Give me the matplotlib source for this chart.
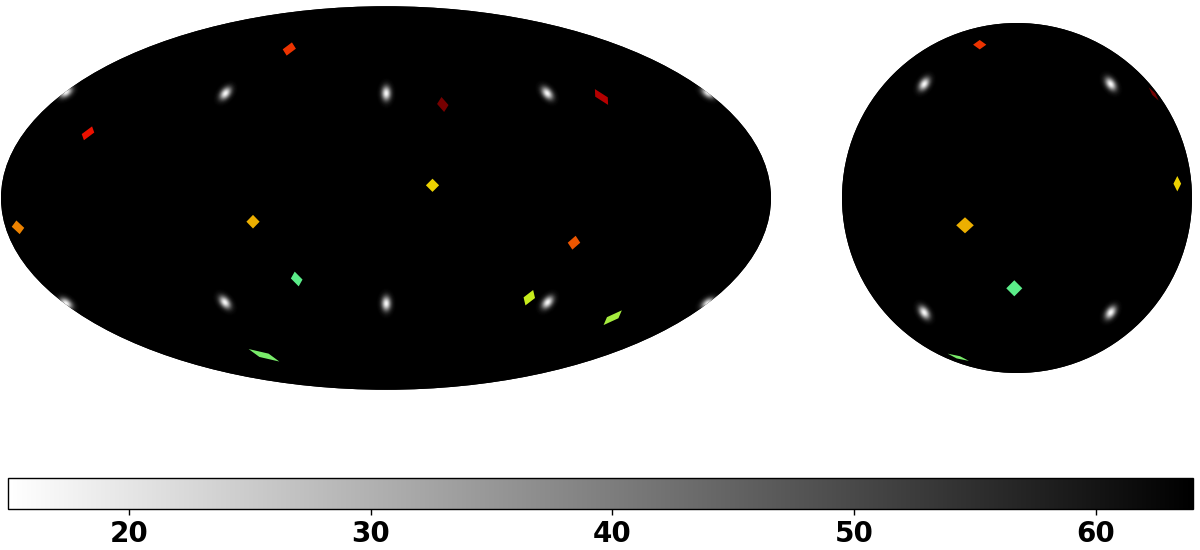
import numpy as np
import matplotlib
matplotlib.use('Agg')
import matplotlib.pyplot as plt
from matplotlib.patches import Ellipse, Circle, Polygon
from matplotlib.colors import Normalize
from matplotlib.cm import ScalarMappable

# everything below is in figure pixels
# left map (ellipse)
left_x = [289.3, 88, 442.8, 601.5, 432.5, 18, 253, 574, 296.7, 529.3, 612.7, 264]
left_y = [49, 133.3, 104.5, 97, 185.3, 227.3, 221.7, 242.7, 279, 297.7, 317.7, 355.3]
left_ux = [6, 5.7, 5.2, 6, 6, 5.7, 6, 5.7, 5.3, 5.2, 8.3, 14]
left_uy = [-0.3, -0.7, 0.5, 7.2, 0, 0.5, 0, 0, 0.5, 0.3, -6.7, 5.7]
left_vx = [-2.4, -3.7, 1.2, 5.7, 0, 1.5, 0, -1.5, 1.8, -3.5, 5.2, 4.2]
left_vy = [6, 6.3, 6.8, 0.3, 6, 6.2, 6.2, 6.3, 6.7, 7, 0.5, -1.5]
left_val = [0.85, 0.89, 1.0, 0.94, 0.67, 0.76, 0.71, 0.81, 0.47, 0.61, 0.57, 0.51]

left_blob_x = [225.5, 386.3, 547.3, 225, 386.3, 547.7, 66, 708, 66, 708]
left_blob_y = [93.3, 93.3, 93.3, 302.3, 303.5, 302.3, 92, 92.5, 303.5, 303.5]
left_blob_ang = [50, 90, 130, 130, 90, 50, 35, 145, 145, 35]

# right map (circle)
right_x = [979.7, 1153.7, 1177.3, 965, 1014.3, 958.3]
right_y = [44.7, 94, 183.7, 225.3, 288.3, 357.3]
right_ux = [6, 4.5, 3.5, 8, 7.3, 9.7]
right_uy = [0, 6, 0, 0, 0, 3.3]
right_vx = [0, 1.3, 0, 0, 0, 1.5]
right_vy = [4.3, -0.8, 7, 7.3, 7.3, -1]
right_val = [0.85, 1.0, 0.67, 0.71, 0.47, 0.51]

right_blob_x = [924.3, 1110.7, 924.3, 1110.7]
right_blob_y = [84, 84, 312.5, 312.5]
right_blob_ang = [55, 125, 125, 55]

# colorbar
vmin = 15
vmax = 64
blob_peak = 17
cbar_ticks = [20, 30, 40, 50, 60]


def blob_field(x0, x1, y0, y1, bx, by, ang):
    xx, yy = np.meshgrid(np.arange(x0, x1, 1.0) + 0.5, np.arange(y0, y1, 1.0) + 0.5)
    z = np.zeros_like(xx)
    for cx, cy, a in zip(bx, by, ang):
        t = np.radians(a)
        # screen y points down, so a positive angle tilts up to the right
        along = (xx - cx) * np.cos(t) - (yy - cy) * np.sin(t)
        across = (xx - cx) * np.sin(t) + (yy - cy) * np.cos(t)
        z += np.exp(-0.5 * (along / 5.0) ** 2 - 0.5 * (across / 3.2) ** 2)
    return vmax - (vmax - blob_peak) * z


def draw_map(ax, patch, x0, x1, y0, y1, bx, by, ang, xs, ys, ux, uy, vx, vy, vals):
    ax.add_patch(patch)
    im = ax.imshow(blob_field(x0, x1, y0, y1, bx, by, ang), extent=(x0, x1, y1, y0),
                   cmap='gray_r', vmin=vmin, vmax=vmax, aspect='auto',
                   interpolation='bilinear', zorder=2)
    im.set_clip_path(patch)
    for i in range(len(xs)):
        c = np.array([xs[i], ys[i]])
        u = np.array([ux[i], uy[i]]) * 1.1
        v = np.array([vx[i], vy[i]]) * 1.1
        poly = Polygon([c + u, c + v, c - u, c - v], closed=True, lw=0, zorder=3,
                       facecolor=plt.cm.jet(vals[i]), alpha=0.93)
        ax.add_patch(poly)
        poly.set_clip_path(patch)


fig = plt.figure(figsize=(12, 5.5), dpi=100)
ax = fig.add_axes([0, 0, 1, 1])

ell = Ellipse((386, 198), 770, 383.5, facecolor='black', edgecolor='none', zorder=1)
draw_map(ax, ell, 0, 780, 0, 400, left_blob_x, left_blob_y, left_blob_ang,
         left_x, left_y, left_ux, left_uy, left_vx, left_vy, left_val)

circ = Circle((1017, 198), 175, facecolor='black', edgecolor='none', zorder=1)
draw_map(ax, circ, 835, 1200, 15, 380, right_blob_x, right_blob_y, right_blob_ang,
         right_x, right_y, right_ux, right_uy, right_vx, right_vy, right_val)

ax.set_xlim(0, 1200)
ax.set_ylim(550, 0)
ax.axis('off')

cax = fig.add_axes([8.2 / 1200, 1 - 508.5 / 550, 1184.4 / 1200, 30.7 / 550])
sm = ScalarMappable(norm=Normalize(vmin, vmax), cmap='gray_r')
cb = fig.colorbar(sm, cax=cax, orientation='horizontal', ticks=cbar_ticks)
cb.outline.set_linewidth(1.0)
cb.ax.tick_params(labelsize=20, length=4.5, width=1.0, pad=4)
for lab in cb.ax.get_xticklabels():
    lab.set_fontweight('bold')

fig.savefig('out.png', dpi=100)
